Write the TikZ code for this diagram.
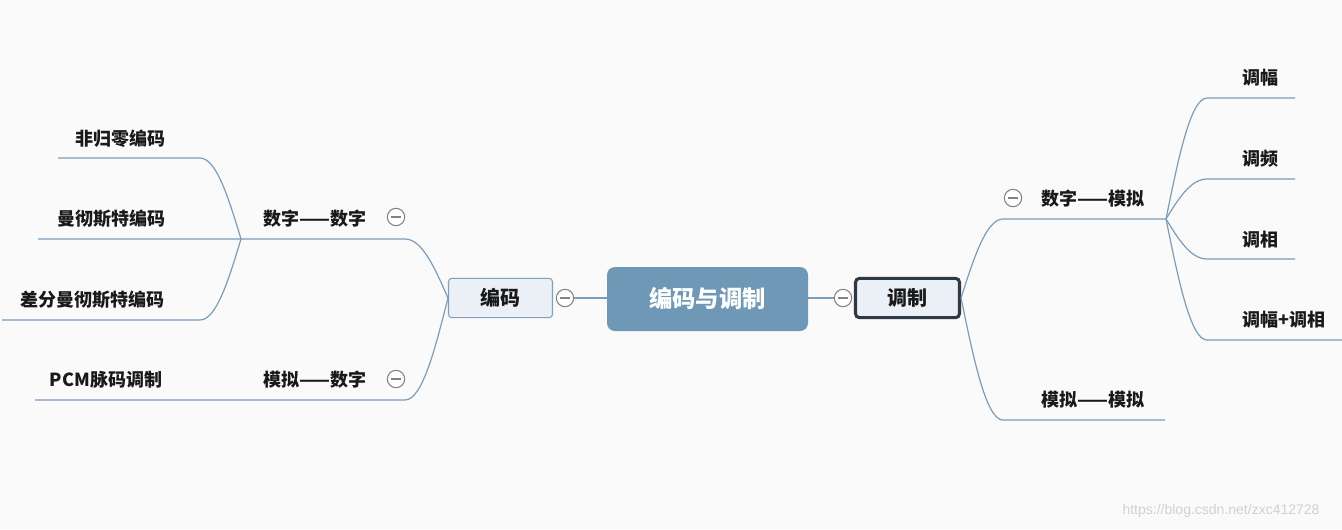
\documentclass[tikz,border=0pt]{standalone}
\usepackage{fontspec}
\setmainfont{Noto Sans CJK SC}
\newfontfamily\wmfont{Liberation Sans}
\usetikzlibrary{calc}
\definecolor{bg}{RGB}{250,250,251}
\definecolor{lnc}{RGB}{122,157,188}
\definecolor{rootc}{RGB}{110,152,182}
\definecolor{boxc}{RGB}{234,240,246}
\definecolor{boxb}{RGB}{127,160,190}
\definecolor{darkb}{RGB}{46,57,68}
\definecolor{txt}{RGB}{25,25,25}
\definecolor{colc}{RGB}{130,130,130}
\tikzset{
  conn/.style={draw=lnc, line width=0.9pt},
  branch/.style={to path={let \p1=(\tikztostart), \p2=(\tikztotarget) in
      .. controls ({\x1+0.3*(\x2-\x1)},{\y1+0.5*(\y2-\y1)}) and ({\x1+0.6*(\x2-\x1)},{\y2}) .. (\tikztotarget)}},
  lbl/.style={font=\bfseries\fontsize{13.5}{15}\selectfont, text=txt, inner sep=0pt},
  rootbox/.style={fill=rootc, rounded corners=6pt, minimum width=150.75pt, minimum height=48pt,
      text=white, font=\bfseries\fontsize{17.5}{20}\selectfont, inner sep=0pt},
  mainbox/.style={fill=boxc, draw=boxb, line width=0.8pt, rounded corners=2.5pt, minimum width=78pt,
      minimum height=29.5pt, text=txt, font=\bfseries\fontsize{15}{17}\selectfont, inner sep=0pt},
  selbox/.style={fill=boxc, draw=darkb, line width=2.3pt, rounded corners=3pt, minimum width=78pt,
      minimum height=29.5pt, text=txt, font=\bfseries\fontsize{15}{17}\selectfont, inner sep=0pt},
  collapse/.style={circle, draw=colc, fill=white, line width=0.8pt, minimum size=13pt, inner sep=0pt,
      path picture={\draw[colc, line width=0.8pt] ([xshift=2.6pt]path picture bounding box.west) -- ([xshift=-2.6pt]path picture bounding box.east);}},
}
\begin{document}
\begin{tikzpicture}[x=0.75pt,y=-0.75pt]
\fill[bg] (0,0) rectangle (1342,529);
\useasboundingbox (0,0) rectangle (1342,529);

% central and main nodes
\node[rootbox] (root) at (707.5,299) {编码与调制};
\node[mainbox] (bm) at (500.5,298) {编码};
\node[selbox] (tz) at (907.5,298) {调制};
\node[collapse] (cbm) at (565,298) {};
\node[collapse] (ctz) at (843,298) {};
\draw[conn] (cbm.east) -- (cbm.east -| root.west);
\draw[conn] (ctz.west) -- (ctz.west -| root.east);

% left coordinates
\coordinate (ddR) at (405,239);
\coordinate (dd) at (241,239);
\coordinate (mcL) at (38,239);
\coordinate (mnR) at (405,400);
\coordinate (pcmL) at (35,400);
\coordinate (nrzR) at (200,158);
\coordinate (nrzL) at (58,158);
\coordinate (dmR) at (200,320);
\coordinate (dmL) at (2,320);

\draw[conn] (bm.west) to[branch] (ddR) -- (dd) -- (mcL);
\draw[conn] (bm.west) to[branch] (mnR) -- (pcmL);
\draw[conn] (dd) to[branch] (nrzR) -- (nrzL);
\draw[conn] (dd) to[branch] (dmR) -- (dmL);

\node[lbl] (t1) at (315,219) {数字——数字};
\node[lbl] (t2) at (315,380) {模拟——数字};
\node[collapse] (c1) at (396,217) {};
\node[collapse] (c2) at (396,379) {};
\node[lbl] (t3) at (120,139) {非归零编码};
\node[lbl] (t4) at (111,219) {曼彻斯特编码};
\node[lbl] (t5) at (92,300) {差分曼彻斯特编码};
\node[lbl] (t6) at (106,380) {PCM脉码调制};

% right coordinates
\coordinate (smL) at (1003,219);
\coordinate (sm) at (1166,219);
\coordinate (mmL) at (1003,420);
\coordinate (mmR) at (1165,420);
\coordinate (tfL) at (1207,98);
\coordinate (tfR) at (1295,98);
\coordinate (tpL) at (1207,179);
\coordinate (tpR) at (1295,179);
\coordinate (txL) at (1207,259);
\coordinate (txR) at (1295,259);
\coordinate (tfxL) at (1207,340);
\coordinate (tfxR) at (1342,340);

\draw[conn] (tz.east) to[branch] (smL) -- (sm);
\draw[conn] (tz.east) to[branch] (mmL) -- (mmR);
\draw[conn] (sm) to[branch] (tfL) -- (tfR);
\draw[conn] (sm) to[branch] (tpL) -- (tpR);
\draw[conn] (sm) to[branch] (txL) -- (txR);
\draw[conn] (sm) to[branch] (tfxL) -- (tfxR);

\node[lbl] (r1) at (1093,199) {数字——模拟};
\node[collapse] (c3) at (1013,198) {};
\node[lbl] (r2) at (1093,400) {模拟——模拟};
\node[lbl] (r3) at (1260,78) {调幅};
\node[lbl] (r4) at (1260,159) {调频};
\node[lbl] (r5) at (1260,240) {调相};
\node[lbl] (r6) at (1284,320) {调幅+调相};

% watermark
\node[font=\wmfont\fontsize{10.5}{12}\selectfont, text=black!18, inner sep=0pt] (wm) at (1221,511) {https://blog.csdn.net/zxc412728};
\end{tikzpicture}
\end{document}
